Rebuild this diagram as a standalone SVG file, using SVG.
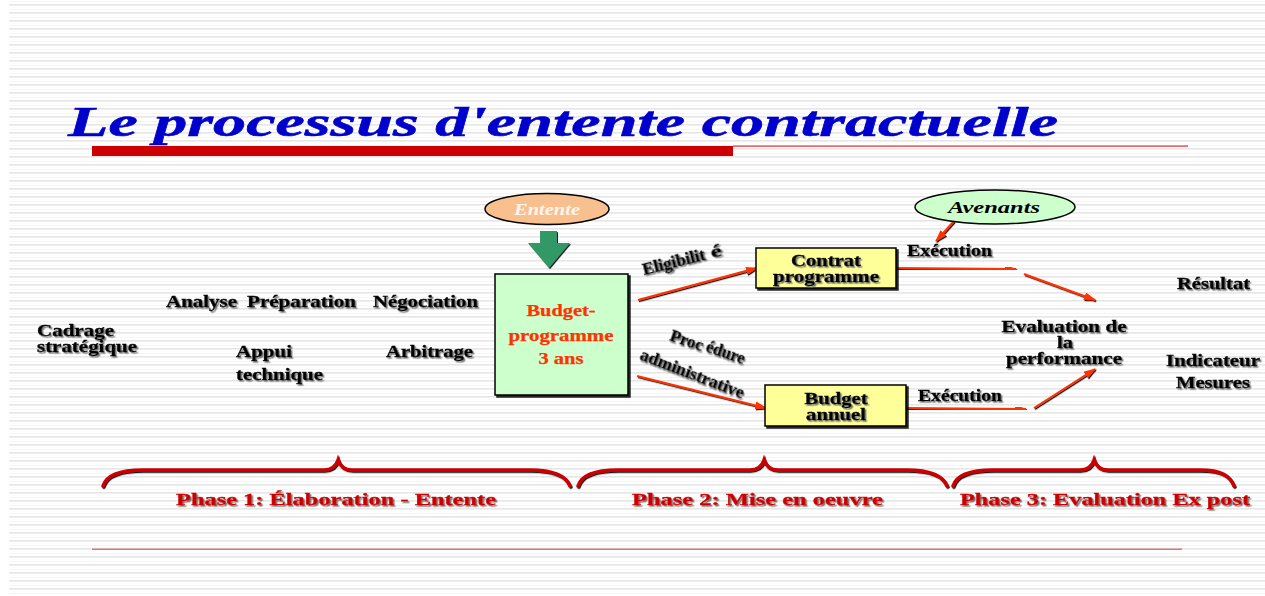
<svg xmlns="http://www.w3.org/2000/svg" width="1265" height="596" viewBox="0 0 1265 596">
<defs>
<pattern id="bgp" x="0" y="0" width="8" height="8" patternUnits="userSpaceOnUse">
<rect x="0" y="1" width="8" height="1" fill="#f5f5f5"/>
<rect x="0" y="4" width="8" height="1.6" fill="#e6e6e6"/>
</pattern>
<filter id="tsh" x="-10%" y="-30%" width="120%" height="160%">
<feDropShadow dx="1.5" dy="1.5" stdDeviation="0.7" flood-color="#666" flood-opacity="0.9"/>
</filter>
<filter id="bsh" x="-10%" y="-10%" width="130%" height="130%">
<feDropShadow dx="2" dy="2" stdDeviation="0.3" flood-color="#000" flood-opacity="0.85"/>
</filter>
<filter id="lsh" x="-10%" y="-50%" width="120%" height="200%">
<feDropShadow dx="1" dy="1.2" stdDeviation="0.2" flood-color="#000" flood-opacity="0.9"/>
</filter>
<marker id="ah" markerWidth="12" markerHeight="8" refX="11" refY="4" orient="auto" markerUnits="userSpaceOnUse">
<path d="M0,0 L12,4 L0,8 Z" fill="#ff3300"/>
</marker>
<style>
.t { font-family: "Liberation Serif", "Times New Roman", serif; font-weight: bold; font-size: 16px; fill: #000; stroke: #000; stroke-width: 0.35; filter: url(#tsh); }
.ph { fill: #cc0000; stroke: #cc0000; font-size: 17.5px; }
.bp { fill: #ff3300; stroke: #ff3300; stroke-width: 0.25; font-size: 16px; filter: none; }
.box { stroke: #000; stroke-width: 1.5; filter: url(#bsh); }
.arr { fill: none; stroke: #ff3300; stroke-width: 2; marker-end: url(#ah); filter: url(#lsh); }
.brace { fill: none; stroke: #cc0000; stroke-width: 3.5; stroke-linecap: round; filter: url(#lsh); }
</style>
</defs>

<rect x="0" y="0" width="1265" height="596" fill="#fff"/>
<rect x="9" y="0" width="1256" height="596" fill="url(#bgp)"/>

<g id="title">
<text x="68" y="136" font-family="'Liberation Serif', 'Times New Roman', serif" font-weight="bold" font-style="italic" font-size="43" fill="#0000cc" stroke="#0000cc" stroke-width="0.6" textLength="990" lengthAdjust="spacingAndGlyphs">Le processus d'entente contractuelle</text>
<rect x="92" y="146" width="641" height="10" fill="#cc0000"/>
<rect x="733" y="145.5" width="455" height="1.2" fill="#d63333"/>
</g>

<g id="bottom-line">
<rect x="92" y="548.5" width="1090" height="1.5" fill="#d97777"/>
</g>

<g id="connectors">
<line x1="213" y1="332" x2="490" y2="332" stroke="#993300" stroke-width="1.5" marker-end="url(#ah)" filter="url(#lsh)"/>
<line class="arr" x1="638" y1="300" x2="757" y2="268"/>
<line class="arr" x1="637" y1="376" x2="766" y2="408"/>
<line class="arr" x1="954" y1="221" x2="936" y2="241"/>
<line class="arr" x1="896" y1="268" x2="1016" y2="269"/>
<line class="arr" x1="1024" y1="274" x2="1095" y2="300"/>
<line class="arr" x1="906" y1="408" x2="1026" y2="409"/>
<line class="arr" x1="1034" y1="408" x2="1095" y2="369"/>
</g>

<g id="left-labels">
<text class="t" x="37" y="336" textLength="77" lengthAdjust="spacingAndGlyphs">Cadrage</text>
<text class="t" x="37" y="352" textLength="100" lengthAdjust="spacingAndGlyphs">stratégique</text>
<text class="t" x="166" y="307" textLength="71" lengthAdjust="spacingAndGlyphs">Analyse</text>
<text class="t" x="247" y="307" textLength="109" lengthAdjust="spacingAndGlyphs">Préparation</text>
<text class="t" x="373" y="307" textLength="105" lengthAdjust="spacingAndGlyphs">Négociation</text>
<text class="t" x="236" y="357" textLength="56" lengthAdjust="spacingAndGlyphs">Appui</text>
<text class="t" x="236" y="380" textLength="87" lengthAdjust="spacingAndGlyphs">technique</text>
<text class="t" x="386" y="357" textLength="87" lengthAdjust="spacingAndGlyphs">Arbitrage</text>
</g>

<g id="entente">
<ellipse cx="547" cy="209" rx="62" ry="15.5" fill="#f9c08f" stroke="#000" stroke-width="1.5"/>
<text x="547" y="215" text-anchor="middle" font-family="'Liberation Serif', serif" font-weight="bold" font-style="italic" font-size="16" fill="#fff5ea" textLength="66" lengthAdjust="spacingAndGlyphs">Entente</text>
</g>

<g id="green-arrow">
<path d="M540,231 L557,231 L557,243 L570,243 L549,268 L528,243 L540,243 Z" fill="#339966" filter="url(#lsh)"/>
</g>

<g id="budget-programme">
<rect class="box" x="495" y="274" width="133" height="121" fill="#ccffcc"/>
<text class="t bp" x="561" y="316" text-anchor="middle" textLength="69" lengthAdjust="spacingAndGlyphs">Budget-</text>
<text class="t bp" x="561" y="341" text-anchor="middle" textLength="105" lengthAdjust="spacingAndGlyphs">programme</text>
<text class="t bp" x="561" y="364" text-anchor="middle" textLength="45" lengthAdjust="spacingAndGlyphs">3 ans</text>
</g>

<g id="arrow-labels">
<text class="t" font-size="15" transform="translate(644,275) rotate(-14)" textLength="64" lengthAdjust="spacingAndGlyphs">Eligibilit</text>
<text class="t" font-size="15" transform="translate(712,258) rotate(-14)" textLength="11" lengthAdjust="spacingAndGlyphs">é</text>
<text class="t" font-size="15" transform="translate(669,340) rotate(19)" textLength="34" lengthAdjust="spacingAndGlyphs">Proc</text>
<text class="t" font-size="15" transform="translate(705,351) rotate(19)" textLength="40" lengthAdjust="spacingAndGlyphs">édure</text>
<text class="t" font-size="15" transform="translate(639,359) rotate(21)" textLength="110" lengthAdjust="spacingAndGlyphs">administrative</text>
</g>

<g id="contrat-programme">
<rect class="box" x="756" y="248" width="140" height="40" fill="#ffff99"/>
<text class="t" x="826" y="266" text-anchor="middle" textLength="70" lengthAdjust="spacingAndGlyphs">Contrat</text>
<text class="t" x="826" y="282" text-anchor="middle" textLength="106" lengthAdjust="spacingAndGlyphs">programme</text>
</g>

<g id="budget-annuel">
<rect class="box" x="765" y="385" width="141" height="41" fill="#ffff99"/>
<text class="t" x="836" y="404" text-anchor="middle" textLength="63" lengthAdjust="spacingAndGlyphs">Budget</text>
<text class="t" x="836" y="420" text-anchor="middle" textLength="60" lengthAdjust="spacingAndGlyphs">annuel</text>
</g>

<g id="avenants">
<ellipse cx="995" cy="207" rx="80" ry="17" fill="#ccffcc" stroke="#000" stroke-width="1.5"/>
<text x="994" y="213" text-anchor="middle" font-family="'Liberation Serif', serif" font-weight="bold" font-style="italic" font-size="17" fill="#000" textLength="92" lengthAdjust="spacingAndGlyphs">Avenants</text>
</g>

<g id="execution-labels">
<text class="t" x="907" y="256" textLength="85" lengthAdjust="spacingAndGlyphs">Exécution</text>
<text class="t" x="918" y="401" textLength="84" lengthAdjust="spacingAndGlyphs">Exécution</text>
</g>

<g id="evaluation">
<text class="t" x="1064" y="332" text-anchor="middle" textLength="125" lengthAdjust="spacingAndGlyphs">Evaluation de</text>
<text class="t" x="1065" y="348" text-anchor="middle" textLength="16" lengthAdjust="spacingAndGlyphs">la</text>
<text class="t" x="1064" y="364" text-anchor="middle" textLength="116" lengthAdjust="spacingAndGlyphs">performance</text>
</g>

<g id="right-labels">
<text class="t" x="1177" y="289" textLength="73" lengthAdjust="spacingAndGlyphs">Résultat</text>
<text class="t" x="1166" y="366" textLength="94" lengthAdjust="spacingAndGlyphs">Indicateur</text>
<text class="t" x="1176" y="388" textLength="74" lengthAdjust="spacingAndGlyphs">Mesures</text>
</g>

<g id="phase1">
<path class="brace" d="M103,486 C106,476 118,470 143,470 L324,470 C332,470 336,466 338,460 C340,466 344,470 352,470 L530,470 C555,470 566,476 570,486"/>
<text class="t ph" x="176" y="505" textLength="320" lengthAdjust="spacingAndGlyphs">Phase 1: Élaboration - Entente</text>
</g>

<g id="phase2">
<path class="brace" d="M578,486 C581,476 593,470 618,470 L750,470 C758,470 762,466 764,460 C766,466 770,470 778,470 L907,470 C932,470 943,476 947,486"/>
<text class="t ph" x="632" y="505" textLength="251" lengthAdjust="spacingAndGlyphs">Phase 2: Mise en oeuvre</text>
</g>

<g id="phase3">
<path class="brace" d="M953,486 C956,476 968,470 993,470 L1080,470 C1088,470 1092,466 1094,460 C1096,466 1100,470 1108,470 L1200,470 C1222,470 1230,476 1234,486"/>
<text class="t ph" x="960" y="505" textLength="290" lengthAdjust="spacingAndGlyphs">Phase 3: Evaluation Ex post</text>
</g>
</svg>
